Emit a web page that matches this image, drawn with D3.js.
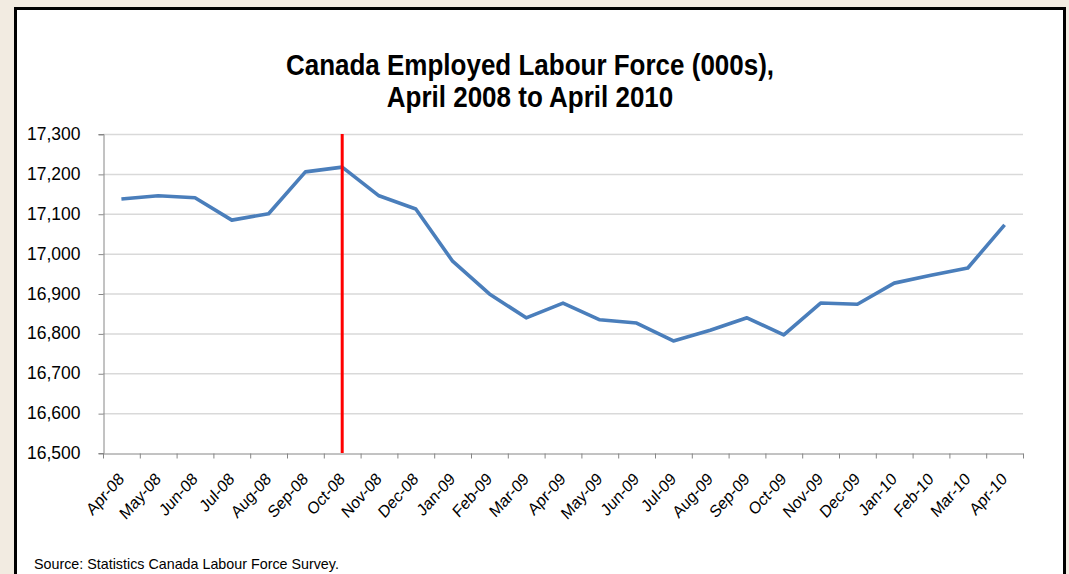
<!DOCTYPE html>
<html><head><meta charset="utf-8">
<script src="https://cdn.jsdelivr.net/npm/d3@7"></script>
<style>body{margin:0;background:#f2ebe1;}svg{display:block;}</style>
</head><body>
<svg id="c" width="1069" height="574"></svg>
<script>
const months = ["Apr-08","May-08","Jun-08","Jul-08","Aug-08","Sep-08","Oct-08","Nov-08","Dec-08","Jan-09","Feb-09","Mar-09","Apr-09","May-09","Jun-09","Jul-09","Aug-09","Sep-09","Oct-09","Nov-09","Dec-09","Jan-10","Feb-10","Mar-10","Apr-10"];
const employed = [17137,17145,17140,17084,17100,17205,17217,17145,17112,16981,16899,16839,16876,16834,16826,16781,16808,16839,16796,16876,16873,16926,16946,16964,17072];
const yTicks = [16500,16600,16700,16800,16900,17000,17100,17200,17300];
const markerMonth = "Oct-08";

const svg = d3.select("#c");
// frame
svg.append("rect").attr("x",15.5).attr("y",8.5).attr("width",1049).attr("height",580)
  .attr("fill","#fff").attr("stroke","#000").attr("stroke-width",3);

const L=103,R=1023,T=134,B=453;
const x = d3.scaleBand().domain(months).range([L,R]);
const y = d3.scaleLinear().domain([16500,17300]).range([B,T]);
const fmt = d3.format(",");

// gridlines
svg.append("g").selectAll("line").data(yTicks.slice(1)).join("line")
  .attr("x1",L).attr("x2",R).attr("y1",d=>y(d)+0.5).attr("y2",d=>y(d)+0.5)
  .attr("stroke","#d9d9d9").attr("stroke-width",1.5);

// y axis
const ya = svg.append("g").attr("transform",`translate(${L+0.5},0)`)
  .call(d3.axisLeft(y).tickValues(yTicks).tickFormat(fmt).tickSize(5).tickPadding(18));
ya.select(".domain").attr("stroke","#868686");
ya.selectAll(".tick line").attr("stroke","#868686").attr("transform","translate(0,0.5)");
ya.selectAll("text").attr("font-family","Liberation Sans, Arial, sans-serif").attr("font-size",17.5).attr("fill","#000");

// x axis
const xa = svg.append("g").attr("transform",`translate(0,${B+0.5})`)
  .call(d3.axisBottom(x).tickSize(0).tickFormat(""));
xa.select(".domain").attr("stroke","#868686");
const tickPos = months.map((m,i)=>x(m)).concat([R]);
xa.selectAll(".tk").data(tickPos).join("line").attr("class","tk")
  .attr("x1",d=>d+0.5).attr("x2",d=>d+0.5).attr("y1",0).attr("y2",5).attr("stroke","#868686");
svg.append("g").selectAll("text").data(months).join("text")
  .attr("transform",d=>`translate(${x(d)+x.bandwidth()/2+3.5},${B+27}) scale(1,1.12) rotate(-45)`)
  .attr("text-anchor","end")
  .attr("font-family","Liberation Sans, Arial, sans-serif").attr("font-size",15.3).attr("fill","#000")
  .text(d=>d);

// line
const line = d3.line().x(d=>x(d.m)+x.bandwidth()/2).y(d=>y(d.v));
svg.append("path").datum(months.map((m,i)=>({m,v:employed[i]})))
  .attr("d",line).attr("fill","none").attr("stroke","#4a7ebb").attr("stroke-width",3.6)
  .attr("stroke-linejoin","round");

// red marker
const mx = x(markerMonth)+x.bandwidth()/2;
svg.append("line").attr("x1",mx).attr("x2",mx).attr("y1",y(17300)).attr("y2",y(16500))
  .attr("stroke","#ff0000").attr("stroke-width",3);

// title
const title = ["Canada Employed Labour Force (000s),","April 2008 to April 2010"];
svg.append("g").selectAll("text").data(title).join("text")
  .attr("transform",(d,i)=>`translate(530,${75+i*31.5}) scale(1,1.12)`)
  .attr("text-anchor","middle")
  .attr("font-family","Liberation Sans, Arial, sans-serif").attr("font-weight","bold").attr("font-size",26).attr("fill","#000")
  .text(d=>d);

// source
svg.append("text").attr("x",34).attr("y",569)
  .attr("font-family","Liberation Sans, Arial, sans-serif").attr("font-size",14.3).attr("fill","#000")
  .text("Source: Statistics Canada Labour Force Survey.");
</script>
</body></html>
